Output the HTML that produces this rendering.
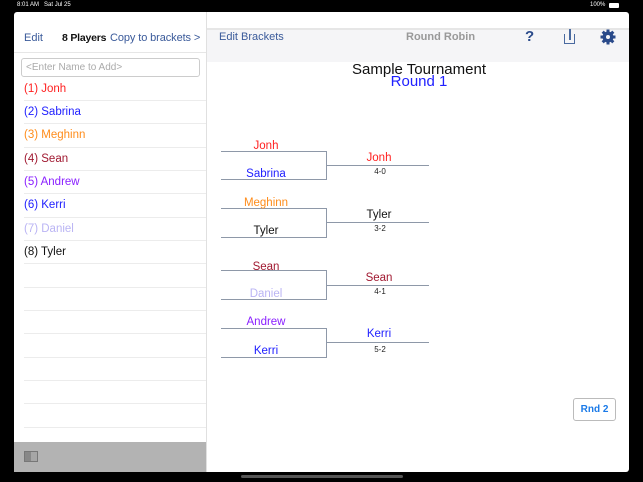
<!DOCTYPE html>
<html><head><style>
*{margin:0;padding:0;box-sizing:border-box}
body{width:643px;height:482px;background:#000;position:relative;overflow:hidden;font-family:"Liberation Sans",Arial,sans-serif}
.a{position:absolute;white-space:nowrap}
.l{position:absolute;background:#ececec;height:1px;left:24px;width:182px}
.h{position:absolute;background:#8e98a8;height:1px}
.v{position:absolute;background:#8e98a8;width:1px}
.n{position:absolute;width:100px;text-align:center;font-size:11.5px}
.s{position:absolute;width:100px;text-align:center;font-size:8px;color:#222}
.p{position:absolute;left:24px;font-size:11.5px}
</style></head><body>
<div class="a" style="left:17px;top:2px;font-size:6px;color:#fff">8:01 AM&nbsp;&nbsp; Sat Jul 25</div>
<div class="a" style="left:590px;top:2px;font-size:6px;color:#fff">100%</div>
<div class="a" style="left:609px;top:3px;width:10px;height:5px;background:#fff;border-radius:1px"></div>
<div class="a" style="left:14px;top:12px;width:615px;height:460px;background:#fff;border-radius:3px"></div>
<div class="a" style="left:206px;top:12px;width:1px;height:460px;background:#e0e0e0"></div>
<div class="a" style="left:207px;top:28px;width:422px;height:34px;background:#f5f5f7;border-top:2px solid #e6e6e6"></div>
<div class="a" style="left:24px;top:32px;font-size:11px;color:#3a5a9a">Edit</div>
<div class="a" style="left:62px;top:32px;font-size:10.5px;color:#111;font-weight:bold;letter-spacing:-0.2px">8 Players</div>
<div class="a" style="left:110px;top:32px;font-size:11px;color:#3a5a9a;letter-spacing:-0.1px">Copy to brackets &gt;</div>
<div class="a" style="left:14px;top:52px;width:192px;height:1px;background:#e6e6e6"></div>
<div class="a" style="left:21px;top:58px;width:179px;height:19px;border:1px solid #ccc;border-radius:3px;font-size:10px;color:#aaa;padding:3px 0 0 4px">&lt;Enter Name to Add&gt;</div>
<div class="p" style="top:83px;color:#ff2020">(1) Jonh</div>
<div class="p" style="top:106px;color:#2020ff">(2) Sabrina</div>
<div class="p" style="top:129px;color:#ff8c1a">(3) Meghinn</div>
<div class="p" style="top:153px;color:#a01830">(4) Sean</div>
<div class="p" style="top:176px;color:#8a20ff">(5) Andrew</div>
<div class="p" style="top:199px;color:#2020ff">(6) Kerri</div>
<div class="p" style="top:223px;color:#bab4f4">(7) Daniel</div>
<div class="p" style="top:246px;color:#111">(8) Tyler</div>
<div class="l" style="top:100px"></div><div class="l" style="top:123px"></div><div class="l" style="top:147px"></div><div class="l" style="top:170px"></div><div class="l" style="top:193px"></div><div class="l" style="top:217px"></div><div class="l" style="top:240px"></div><div class="l" style="top:263px"></div><div class="l" style="top:287px"></div><div class="l" style="top:310px"></div><div class="l" style="top:333px"></div><div class="l" style="top:357px"></div><div class="l" style="top:380px"></div><div class="l" style="top:403px"></div><div class="l" style="top:427px"></div>
<div class="a" style="left:14px;top:442px;width:192px;height:30px;background:#b3b3b3"></div>
<div class="a" style="left:24px;top:451px;width:14px;height:11px;background:#888;border:1px solid #777"></div>
<div class="a" style="left:31px;top:452px;width:6px;height:9px;background:#a6a6a6"></div>
<div class="a" style="left:219px;top:31px;font-size:11px;color:#3a5a9a">Edit Brackets</div>
<div class="a" style="left:406px;top:31px;font-size:11px;color:#999;font-weight:bold">Round Robin</div>
<div class="a" style="left:525px;top:28px;font-size:15px;color:#2a4a8a;font-weight:bold">?</div>
<div class="a" style="left:564px;top:34px;width:11px;height:10px;border:1.5px solid #4a6aa0;border-top:none"></div>
<div class="a" style="left:569px;top:29px;width:1.5px;height:11px;background:#4a6aa0"></div>
<svg class="a" style="left:600px;top:29px" width="16" height="16" viewBox="0 0 16 16"><g fill="#2a4a8a"><circle cx="8" cy="8" r="5.5"/><rect x="6.5" y="0.5" width="3" height="15"/><rect x="0.5" y="6.5" width="15" height="3"/><rect x="6.5" y="0.5" width="3" height="15" transform="rotate(45 8 8)"/><rect x="6.5" y="0.5" width="3" height="15" transform="rotate(-45 8 8)"/></g><circle cx="8" cy="8" r="2" fill="#f5f5f7"/></svg>
<div class="a" style="left:208px;top:61px;width:422px;text-align:center;font-size:15px;color:#111">Sample Tournament</div>
<div class="a" style="left:208px;top:73px;width:422px;text-align:center;font-size:15px;color:#2020ff">Round 1</div>

<div class="h" style="left:221px;top:151px;width:106px"></div><div class="h" style="left:221px;top:179px;width:106px"></div><div class="v" style="left:326px;top:151px;height:29px"></div><div class="h" style="left:327px;top:165px;width:102px"></div>
<div class="h" style="left:221px;top:208px;width:106px"></div><div class="h" style="left:221px;top:237px;width:106px"></div><div class="v" style="left:326px;top:208px;height:30px"></div><div class="h" style="left:327px;top:222px;width:102px"></div>
<div class="h" style="left:221px;top:270px;width:106px"></div><div class="h" style="left:221px;top:299px;width:106px"></div><div class="v" style="left:326px;top:270px;height:30px"></div><div class="h" style="left:327px;top:285px;width:102px"></div>
<div class="h" style="left:221px;top:328px;width:106px"></div><div class="h" style="left:221px;top:357px;width:106px"></div><div class="v" style="left:326px;top:328px;height:30px"></div><div class="h" style="left:327px;top:342px;width:102px"></div>

<div class="n" style="left:216px;top:140px;color:#ff2020">Jonh</div>
<div class="n" style="left:216px;top:168px;color:#2020ff">Sabrina</div>
<div class="n" style="left:329px;top:152px;color:#ff2020">Jonh</div>
<div class="s" style="left:330px;top:167px">4-0</div>
<div class="n" style="left:216px;top:197px;color:#ff8c1a">Meghinn</div>
<div class="n" style="left:216px;top:225px;color:#111">Tyler</div>
<div class="n" style="left:329px;top:209px;color:#111">Tyler</div>
<div class="s" style="left:330px;top:224px">3-2</div>
<div class="n" style="left:216px;top:261px;color:#a01830">Sean</div>
<div class="n" style="left:216px;top:288px;color:#bab4f4">Daniel</div>
<div class="n" style="left:329px;top:272px;color:#a01830">Sean</div>
<div class="s" style="left:330px;top:287px">4-1</div>
<div class="n" style="left:216px;top:316px;color:#8a20ff">Andrew</div>
<div class="n" style="left:216px;top:345px;color:#2020ff">Kerri</div>
<div class="n" style="left:329px;top:328px;color:#2020ff">Kerri</div>
<div class="s" style="left:330px;top:345px">5-2</div>

<div class="a" style="left:573px;top:398px;width:43px;height:23px;border:1px solid #bbb;border-radius:3px;font-size:10px;font-weight:bold;color:#1a7ae8;text-align:center;line-height:21px">Rnd 2</div>
<div class="a" style="left:241px;top:475px;width:162px;height:3px;background:#555;border-radius:2px"></div>
</body></html>
